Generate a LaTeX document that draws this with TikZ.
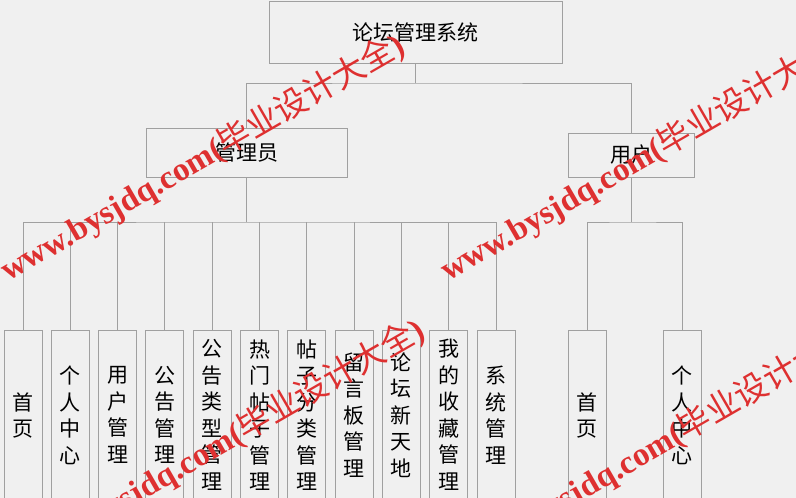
\documentclass[tikz,border=0pt]{standalone}
\usepackage{fontspec}
\newfontfamily\cjk{Noto Sans CJK SC}
\newfontfamily\wmlat{Liberation Serif}
\definecolor{bg}{HTML}{F0F0F0}
\definecolor{ln}{HTML}{A0A0A0}
\definecolor{wm}{RGB}{222,48,48}
\begin{document}
\begin{tikzpicture}[x=1pt,y=-1pt,
  box/.style={draw=ln,line width=1pt,fill=bg,inner sep=0pt,text=black,
    font=\cjk\fontsize{21}{26.5}\selectfont},
  leaf/.style={box,minimum width=38pt,minimum height=180pt,align=center,anchor=north},
  conn/.style={draw=ln,line width=1pt},
  wmark/.style={text=wm,rotate=30,anchor=base west,inner sep=0pt,
    font=\fontsize{33}{33}\selectfont}]
\fill[bg] (0,0) rectangle (796,498);
\useasboundingbox (0,0) rectangle (796,498);
\clip (0,0) rectangle (796,498);
% top levels
\node[box,minimum width=293pt,minimum height=62pt] (root) at (415.8,32.3) {论坛管理系统};
\node[box,minimum width=201pt,minimum height=49pt] (admin) at (246.5,152.5) {管理员};
\node[box,minimum width=126pt,minimum height=44pt] (user) at (631,155) {用户};
% admin leaves
\foreach \t [count=\i] in {{首\\页},{个\\人\\中\\心},{用\\户\\管\\理},{公\\告\\管\\理},
  {公\\告\\类\\型\\管\\理},{热\\门\\帖\\子\\管\\理},{帖\\子\\分\\类\\管\\理},
  {留\\言\\板\\管\\理},{论\\坛\\新\\天\\地},{我\\的\\收\\藏\\管\\理},{系\\统\\管\\理}}
  \node[leaf] (a\i) at ({23+47.3*(\i-1)},330) {\t\rule[-12pt]{0pt}{0pt}};
% user leaves
\node[leaf] (u1) at (587,330) {首\\页\rule[-12pt]{0pt}{0pt}};
\node[leaf] (u2) at (682,330) {个\\人\\中\\心\rule[-12pt]{0pt}{0pt}};
% connectors
\coordinate (j1) at (415.8,83);
\coordinate (j2) at (246.5,222);
\coordinate (j3) at (631,222);
\draw[conn] (root.south) -- (j1);
\draw[conn] (admin.north) |- (j1) -| (user.north);
\draw[conn] (admin.south) -- (j2);
\draw[conn] (a1.north) |- (j2) -| (a11.north);
\foreach \i in {2,...,10} \draw[conn] (a\i.north) -- (a\i.north |- j2);
\draw[conn] (user.south) -- (j3);
\draw[conn] (u1.north) |- (j3) -| (u2.north);
% watermarks
\node[wmark] (wm1) at (8,282) {\wmlat\bfseries www.bysjdq.com(\cjk\mdseries 毕业设计大全\wmlat\bfseries )};
\node[wmark] (wm2) at (448,282) {\wmlat\bfseries www.bysjdq.com(\cjk\mdseries 毕业设计大全\wmlat\bfseries )};
\node[wmark] (wm3) at (28,567) {\wmlat\bfseries www.bysjdq.com(\cjk\mdseries 毕业设计大全\wmlat\bfseries )};
\node[wmark] (wm4) at (468,567) {\wmlat\bfseries www.bysjdq.com(\cjk\mdseries 毕业设计大全\wmlat\bfseries )};
\end{tikzpicture}
\end{document}
